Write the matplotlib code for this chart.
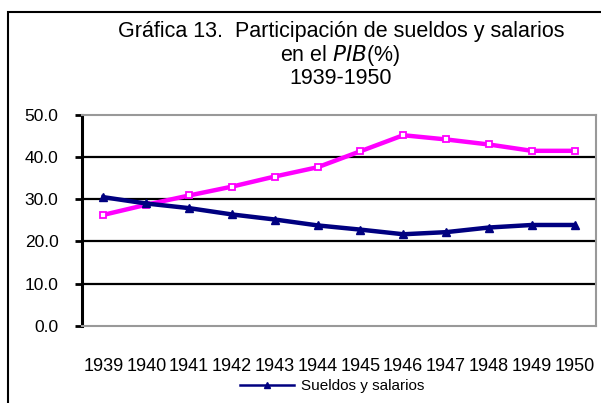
import matplotlib.pyplot as plt
import matplotlib.font_manager as fm
from matplotlib.patches import Rectangle
from matplotlib.lines import Line2D

# font: Excel-like Arial
names = {f.name for f in fm.fontManager.ttflist}
fam = 'Liberation Sans Narrow' if 'Liberation Sans Narrow' in names else 'Liberation Sans'
plt.rcParams['font.family'] = [fam, 'DejaVu Sans']

years = ['1939', '1940', '1941', '1942', '1943', '1944', '1945', '1946', '1947', '1948', '1949', '1950']
sueldos = [30.5, 29.0, 27.9, 26.4, 25.2, 23.8, 22.8, 21.7, 22.2, 23.3, 23.9, 23.9]
otro = [26.3, 28.7, 30.9, 33.0, 35.4, 37.6, 41.4, 45.2, 44.2, 43.0, 41.5, 41.5]
yticks = [0, 10, 20, 30, 40, 50]

fig = plt.figure(figsize=(6.01, 4.03), dpi=100)
fig.patches.append(Rectangle((8/601, -0.1), 1.2, 1 - 12/403 + 0.1, transform=fig.transFigure,
                             fill=False, edgecolor='black', linewidth=1.5))

ax = fig.add_axes([82/601, 1 - 325.7/403, 514/601, 210.7/403])
x = list(range(len(years)))

for v in [10, 20, 30, 40]:
    ax.axhline(v, color='black', linewidth=1.6, zorder=1)

ax.plot(x, otro, color='#FF00FF', linewidth=3.2, marker='s', markersize=5,
        markerfacecolor='white', markeredgecolor='#FF00FF', markeredgewidth=1.3, zorder=3)
ax.plot(x, sueldos, color='#000080', linewidth=3.2, marker='^', markersize=6, zorder=4)

ax.set_xlim(-0.5, len(years) - 0.5)
ax.set_ylim(0, 50)
ax.set_yticks(yticks)
ax.set_yticklabels(['%.1f' % v for v in yticks], fontsize=12.5)
ax.set_xticks(x)
ax.set_xticklabels(years, fontsize=13)
ax.tick_params(axis='x', length=0, pad=23)
ax.tick_params(axis='y', length=5, width=2, pad=12, color='black')

for s in ['top', 'right', 'bottom']:
    ax.spines[s].set_color('#999999')
    ax.spines[s].set_linewidth(1.5)
ax.spines['left'].set_color('black')
ax.spines['left'].set_linewidth(2.2)

tx = 0.567
fig.text(tx, 1 - 31/403, 'Gráfica 13.  Participación de sueldos y salarios', ha='center', va='center', fontsize=15.5)
fig.text(tx, 1 - 55/403, 'en el $\\it{PIB}$(%)', ha='center', va='center', fontsize=15.5)
fig.text(tx, 1 - 79/403, '1939-1950', ha='center', va='center', fontsize=15.5)

# legend shows only the first series, with a thin line
handle = Line2D([], [], color='#000080', linewidth=1.8, marker='^', markersize=4.5)
fig.legend([handle], ['Sueldos y salarios'], loc='center', bbox_to_anchor=(0.553, 1 - 386/403),
           frameon=False, fontsize=11, handlelength=3.5, handletextpad=0.45)

fig.savefig('out.png', dpi=100)
